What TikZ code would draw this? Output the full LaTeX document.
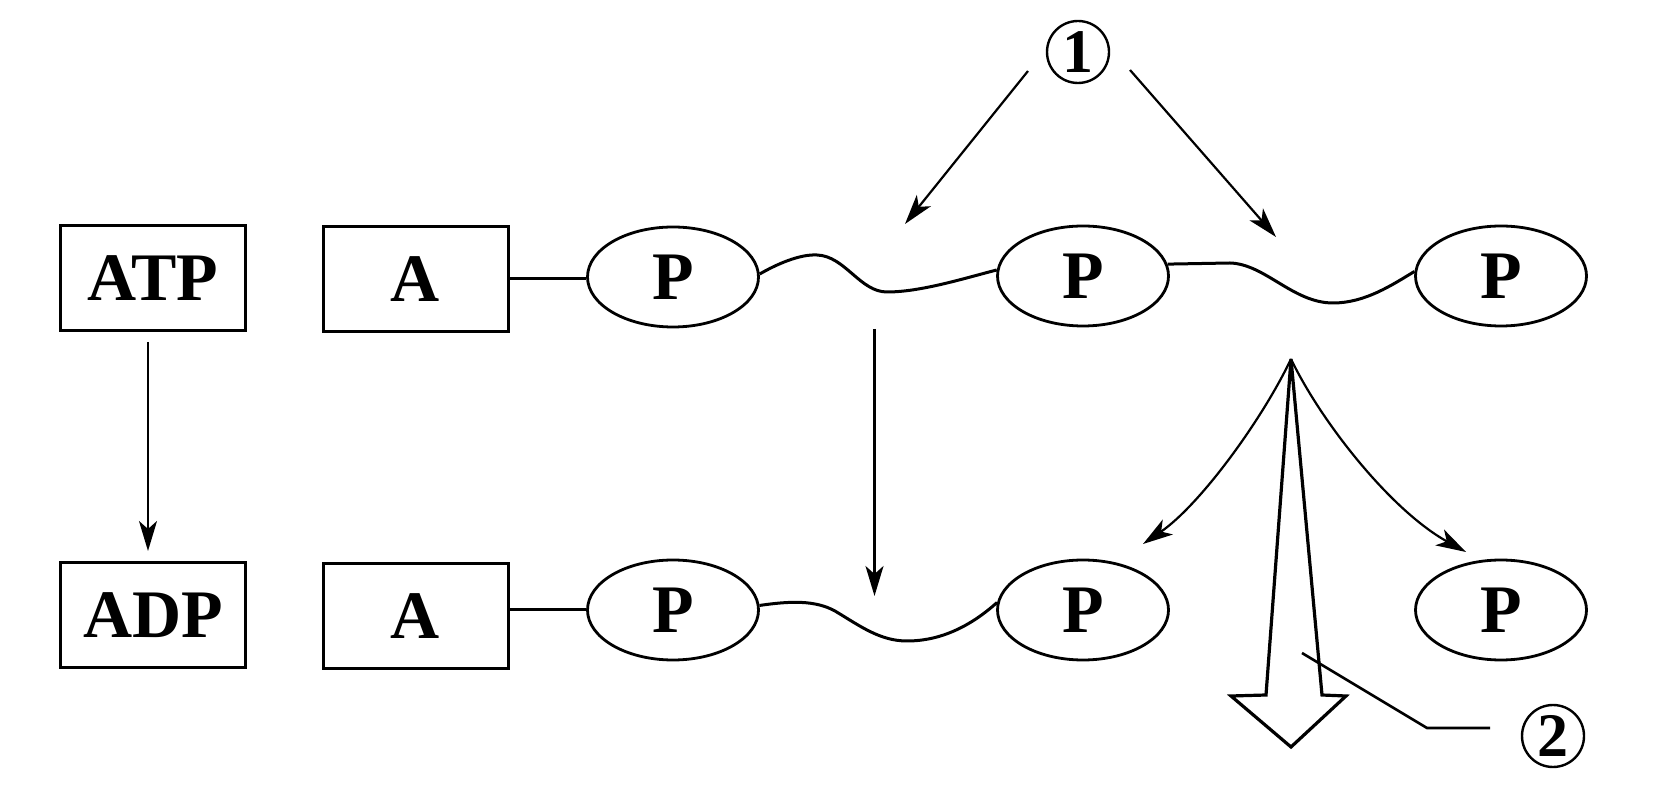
\documentclass[tikz,border=0pt]{standalone}
\usepackage{fontspec}
\setmainfont{Liberation Serif}
\usetikzlibrary{arrows.meta,shapes.geometric}
\begin{document}
\begin{tikzpicture}[x=0.5pt,y=-0.5pt,
  box/.style={draw,line width=1.5pt,minimum width=92.5pt,minimum height=52.5pt,inner sep=0pt,font=\fontsize{34}{34}\selectfont\bfseries},
  pel/.style={draw,ellipse,line width=1.4pt,minimum width=85.5pt,minimum height=50pt,inner sep=0pt,font=\fontsize{34}{34}\selectfont\bfseries},
  bond/.style={line width=1.5pt},
  arr/.style={line width=1.1pt,-{Stealth[length=15pt,width=9pt,inset=4pt]}},
  hollow/.style={line width=1.6pt,line join=miter},
  lead/.style={line width=1.3pt},
  circnum/.style={draw,circle,line width=1.2pt,minimum size=31pt,inner sep=0pt,font=\fontsize{31}{31}\selectfont\bfseries}
]
\useasboundingbox (0,0) rectangle (1654,795);

% boxes
\node[box] (atp) at (153,278) {ATP};
\node[box] (adp) at (153,615) {ADP};
\node[box] (a1) at (415.5,279) {A};
\node[box] (a2) at (415.5,616) {A};

% phosphate ellipses
\node[pel] (p1) at (673,277) {P};
\node[pel] (p2) at (1083,276) {P};
\node[pel] (p3) at (1501,276) {P};
\node[pel] (q1) at (673,610) {P};
\node[pel] (q2) at (1083,610) {P};
\node[pel] (q3) at (1501,610) {P};

% circled labels
\node[circnum] (c1) at (1078,52) {1};
\node[circnum] (c2) at (1553,736) {2};

% A - P single bonds
\draw[bond] (a1.east |- 0,279) -- (p1.west |- 0,279);
\draw[bond] (a2.east |- q1.west) -- (q1.west);

% high-energy bonds, top
\draw[bond] (p1.2) .. controls (777,264) and (800,254) .. (817,255)
  .. controls (845,256) and (860,292) .. (887,292)
  .. controls (920,292) and (962,279) .. (p2.176);
\draw[bond] (p2.8) -- (1230,263)
  .. controls (1265,264) and (1293,303) .. (1333,303)
  .. controls (1365,303) and (1392,285) .. (p3.177);

% bottom bond
\draw[bond] (q1.3) .. controls (790,601) and (815,600) .. (835,611)
  .. controls (860,626) and (880,641) .. (907,641)
  .. controls (942,641) and (972,625) .. (q2.175);

% ATP -> ADP
\coordinate (s0) at (148,342);
\coordinate (s1) at (148,551);
\draw[arr] (s0) -- (s1);
\coordinate (m0) at (874.5,329);
\coordinate (m1) at (874.5,596);
\draw[arr] (m0) -- (m1);

% arrows from 1
\coordinate (l0) at (1028,71);
\coordinate (l1) at (905,224);
\coordinate (r0) at (1130,70);
\coordinate (r1) at (1276,237);
\draw[arr] (l0) -- (l1);
\draw[arr] (r0) -- (r1);

% split point
\coordinate (sp) at (1291,359);
\coordinate (lt) at (1143,544);
\coordinate (rt) at (1466,552);
\draw[arr] (sp) .. controls (1262,420) and (1200,505) .. (lt);
\draw[arr] (sp) .. controls (1320,420) and (1390,510) .. (rt);

% hollow energy arrow
\draw[hollow] (sp) -- (1322,695) -- (1346,696) -- (1291,747) -- (1231,696) -- (1266,695) -- cycle;

% leader to 2
\coordinate (d0) at (1302,653);
\coordinate (d1) at (1427,728);
\coordinate (d2) at (1490,728);
\draw[lead] (d0) -- (d1) -- (d2);
\end{tikzpicture}
\end{document}
